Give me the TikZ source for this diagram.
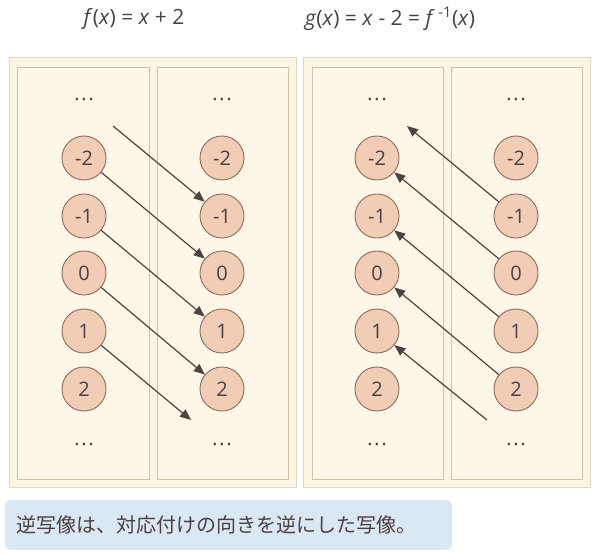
\documentclass[tikz,border=0pt]{standalone}
\usepackage{fontspec}
\setmainfont{Open Sans}
\newfontfamily\cjk{Noto Sans CJK JP}
\usetikzlibrary{arrows.meta}
\definecolor{txt}{HTML}{4A4040}
\definecolor{outerfill}{HTML}{FCF5E4}
\definecolor{outerline}{HTML}{E2D9C3}
\definecolor{colfill}{HTML}{FDF7E8}
\definecolor{colline}{HTML}{CDC2A8}
\definecolor{circfill}{HTML}{F2CDB5}
\definecolor{circline}{HTML}{8C6B5D}
\definecolor{arr}{HTML}{4D4340}
\definecolor{capfill}{HTML}{DAE8F4}
\tikzset{
  outerbox/.style={fill=outerfill,draw=outerline,line width=1pt},
  colbox/.style={fill=colfill,draw=colline,line width=0.8pt},
  num/.style={circle,minimum size=44pt,inner sep=0pt,fill=circfill,draw=circline,line width=0.9pt,text=txt,font=\fontsize{20}{22}\selectfont},
  dots/.style={text=txt,font=\fontsize{11}{12}\selectfont},
  title/.style={text=txt,font=\fontsize{21}{25}\selectfont},
  map/.style={draw=arr,line width=1.2pt,-{Triangle[length=11pt,width=9pt]}},
}
\begin{document}
\begin{tikzpicture}[x=1pt,y=-1pt]
\useasboundingbox (0,0) rectangle (600,556);
% titles
\node[title] (t1) at (134,19) {\textit{f}(\textit{x}) = \textit{x} + 2};
\node[title] (t2) at (390,19) {\textit{g}(\textit{x}) = \textit{x} - 2 = \textit{f}\,\textsuperscript{-1}(\textit{x})};
% panels
\draw[outerbox] (9,58) rectangle (296,487);
\draw[colbox] (17,67) rectangle (149,479);
\draw[colbox] (157,67) rectangle (288,479);
\draw[outerbox] (303,58) rectangle (590,487);
\draw[colbox] (312,67) rectangle (443,479);
\draw[colbox] (451,67) rectangle (582,479);
% dots
\foreach \x/\n in {84/a,222/b,377/c,516/d}{
  \node[dots] (top\n) at (\x,101) {\textbullet\hspace{3pt}\textbullet\hspace{3pt}\textbullet};
  \node[dots] (bot\n) at (\x,446) {\textbullet\hspace{3pt}\textbullet\hspace{3pt}\textbullet};
}
% circles
\foreach \y/\v/\k in {158/-2/m2,216/-1/m1,273/0/z,331/1/p1,389/2/p2}{
  \node[num] (a\k) at (84,\y) {\v};
  \node[num] (b\k) at (222,\y) {\v};
  \node[num] (c\k) at (377,\y) {\v};
  \node[num] (d\k) at (516,\y) {\v};
}
% free ends
\coordinate (fs) at (113,126);
\coordinate (fe) at (191,420);
\coordinate (ge) at (407,126);
\coordinate (gs) at (487,420);
% f arrows
\draw[map] (fs) -- (bm1);
\draw[map] (am2) -- (bz);
\draw[map] (am1) -- (bp1);
\draw[map] (az) -- (bp2);
\draw[map] (ap1) -- (fe);
% g arrows
\draw[map] (dm1) -- (ge);
\draw[map] (dz) -- (cm2);
\draw[map] (dp1) -- (cm1);
\draw[map] (dp2) -- (cz);
\draw[map] (gs) -- (cp1);
% caption
\node[fill=capfill,rounded corners=6pt,minimum width=447pt,minimum height=50pt,inner sep=0pt] (cap) at (228.5,525) {};
\node[anchor=west,text=txt,font=\cjk\fontsize{20}{24}\selectfont] (captext) at (13,525) {逆写像は、対応付けの向きを逆にした写像。};
\end{tikzpicture}
\end{document}
